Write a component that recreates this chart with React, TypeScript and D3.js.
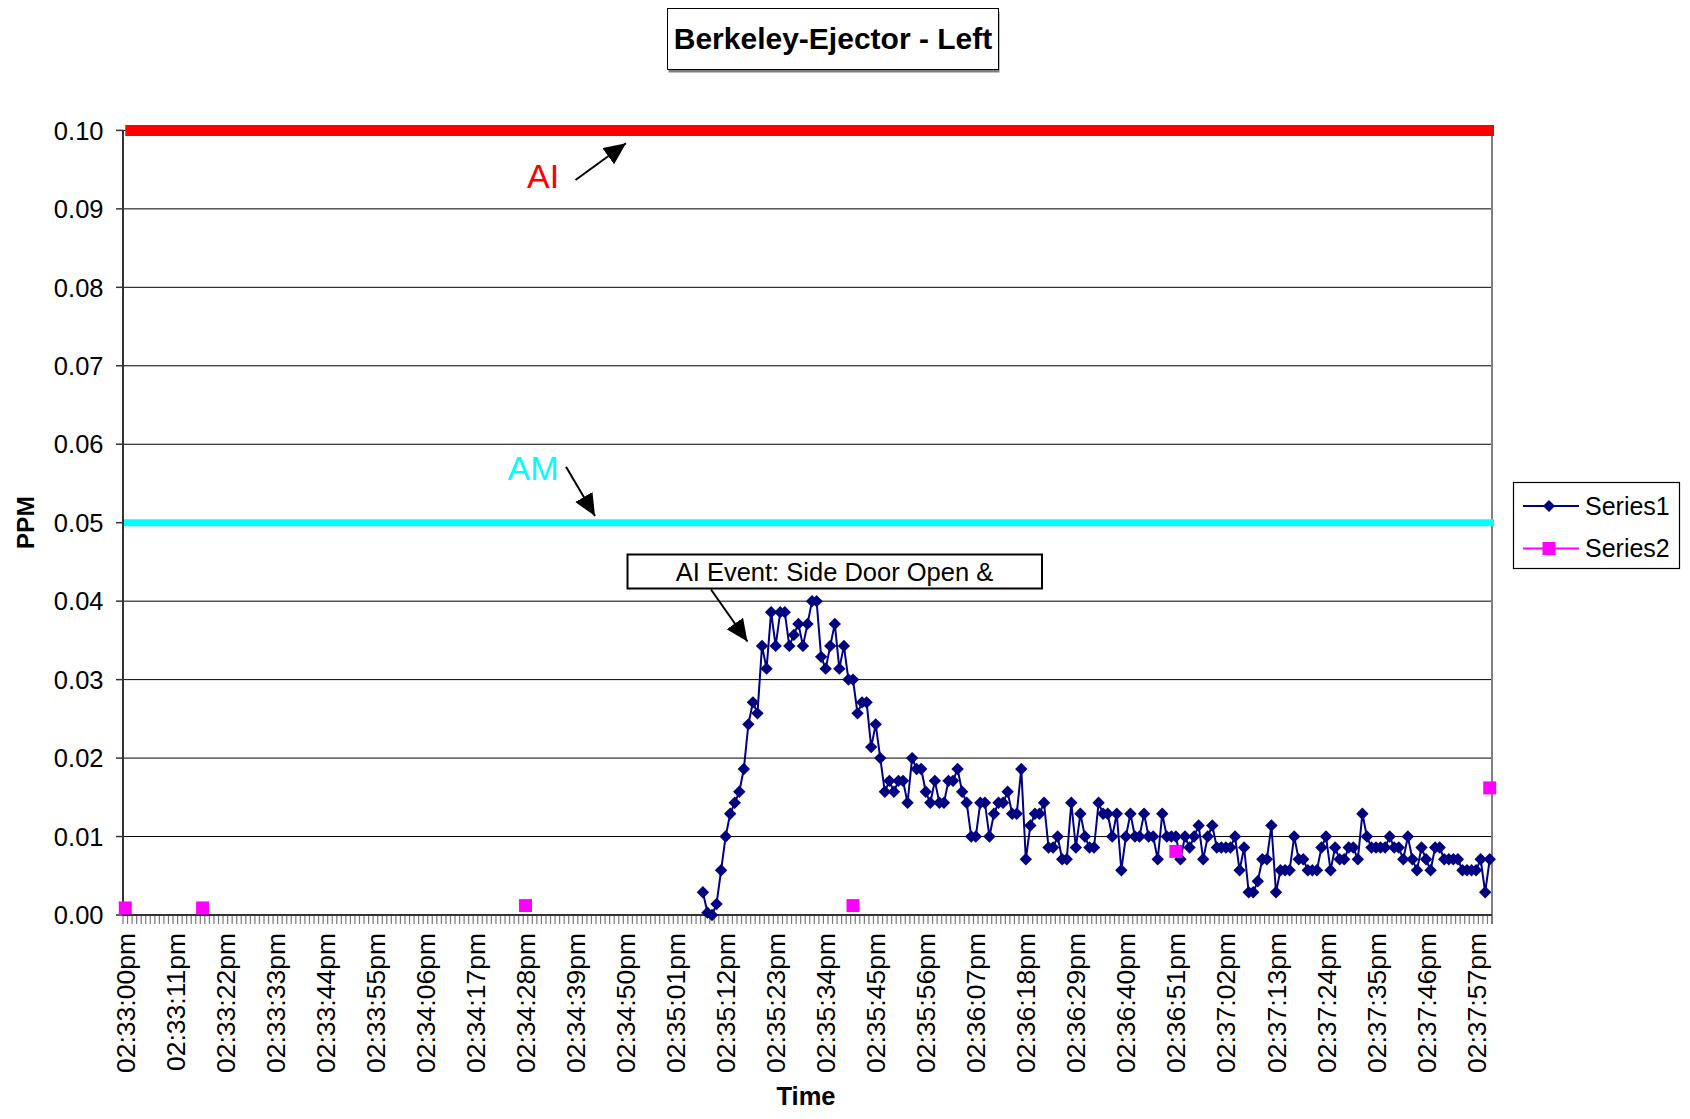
import React from "react";
import * as d3 from "d3";

// ---------- data ----------
const TITLE = "Berkeley-Ejector - Left";
const Y_TITLE = "PPM";
const X_TITLE = "Time";
const START_SECONDS = 2 * 3600 + 33 * 60; // 02:33:00pm
const N_CATEGORIES = 301; // one category per second, 02:33:00pm .. 02:38:00pm
const LABEL_EVERY = 11;
const yTicks = [0, 0.01, 0.02, 0.03, 0.04, 0.05, 0.06, 0.07, 0.08, 0.09, 0.1];

const AI_LEVEL = 0.1;
const AM_LEVEL = 0.05;

// Series1 starts at category index 127 (02:35:07pm)
const series1Start = 127;
const series1Values = [
  0.0029, 0.0003, 0, 0.0014, 0.0057, 0.01, 0.0129, 0.0143, 0.0157, 0.0186,
  0.0243, 0.0271, 0.0257, 0.0343, 0.0314, 0.0386, 0.0343, 0.0386, 0.0386, 0.0343,
  0.0357, 0.0371, 0.0343, 0.0371, 0.04, 0.04, 0.0329, 0.0314, 0.0343, 0.0371,
  0.0314, 0.0343, 0.03, 0.03, 0.0257, 0.0271, 0.0271, 0.0214, 0.0243, 0.02,
  0.0157, 0.0171, 0.0157, 0.0171, 0.0171, 0.0143, 0.02, 0.0186, 0.0186, 0.0157,
  0.0143, 0.0171, 0.0143, 0.0143, 0.0171, 0.0171, 0.0186, 0.0157, 0.0143, 0.01,
  0.01, 0.0143, 0.0143, 0.01, 0.0129, 0.0143, 0.0143, 0.0157, 0.0129, 0.0129,
  0.0186, 0.0071, 0.0114, 0.0129, 0.0129, 0.0143, 0.0086, 0.0086, 0.01, 0.0071,
  0.0071, 0.0143, 0.0086, 0.0129, 0.01, 0.0086, 0.0086, 0.0143, 0.0129, 0.0129,
  0.01, 0.0129, 0.0057, 0.01, 0.0129, 0.01, 0.01, 0.0129, 0.01, 0.01,
  0.0071, 0.0129, 0.01, 0.01, 0.01, 0.0071, 0.01, 0.0086, 0.01, 0.0114,
  0.0071, 0.01, 0.0114, 0.0086, 0.0086, 0.0086, 0.0086, 0.01, 0.0057, 0.0086,
  0.0029, 0.0029, 0.0043, 0.0071, 0.0071, 0.0114, 0.0029, 0.0057, 0.0057, 0.0057,
  0.01, 0.0071, 0.0071, 0.0057, 0.0057, 0.0057, 0.0086, 0.01, 0.0057, 0.0086,
  0.0071, 0.0071, 0.0086, 0.0086, 0.0071, 0.0129, 0.01, 0.0086, 0.0086, 0.0086,
  0.0086, 0.01, 0.0086, 0.0086, 0.0071, 0.01, 0.0071, 0.0057, 0.0086, 0.0071,
  0.0057, 0.0086, 0.0086, 0.0071, 0.0071, 0.0071, 0.0071, 0.0057, 0.0057, 0.0057,
  0.0057, 0.0071, 0.0029, 0.0071,
];

const series2Index = [0, 17, 88, 160, 231, 300];
const series2Values = [0.0009, 0.0009, 0.0012, 0.0012, 0.0081, 0.0162];

const legendLabels = ["Series1", "Series2"];
const annotationText = "AI Event: Side Door Open &";

// ---------- helpers ----------
function fmtTime(sec: number) {
  const h = Math.floor(sec / 3600);
  const m = Math.floor((sec % 3600) / 60);
  const s = sec % 60;
  const p = (n: number) => String(n).padStart(2, "0");
  return `${p(h)}:${p(m)}:${p(s)}pm`;
}
const categories = d3.range(N_CATEGORIES).map((i) => fmtTime(START_SECONDS + i));

const FONT = "'Liberation Sans', Arial, Helvetica, sans-serif";
const NAVY = "#000080";
const PINK = "#FF00FF";

export default function App() {
  const W = 1690;
  const H = 1119;
  const left = 123;
  const right = 1492;
  const top = 130.4;
  const bottom = 915;

  const x = d3
    .scaleBand<number>()
    .domain(d3.range(N_CATEGORIES))
    .range([left, right])
    .paddingInner(0)
    .paddingOuter(0);
  const bw = x.bandwidth();
  const xc = (i: number) => (x(i) as number) + bw / 2;
  const y = d3.scaleLinear().domain([0, 0.1]).range([bottom, top]);

  const s1 = series1Values.map((v, k) => ({ i: series1Start + k, v }));
  const line = d3
    .line<{ i: number; v: number }>()
    .x((d) => xc(d.i))
    .y((d) => y(d.v));

  const diamond = (cx: number, cy: number, r: number) =>
    `M${cx},${cy - r}L${cx + r},${cy}L${cx},${cy + r}L${cx - r},${cy}Z`;

  const labelIdx = d3.range(0, N_CATEGORIES, LABEL_EVERY);
  const boundaries = d3.range(N_CATEGORIES + 1).map((k) => left + k * bw);

  return (
    <svg
      width={W}
      height={H}
      style={{ position: "absolute", left: 0, top: 0, background: "#fff" }}
      fontFamily={FONT}
    >
      <defs>
        <marker
          id="arrow"
          markerUnits="userSpaceOnUse"
          markerWidth={24}
          markerHeight={20}
          refX={22}
          refY={10}
          orient="auto"
        >
          <path d="M0,0 L22,10 L0,20 Z" fill="#000" />
        </marker>
      </defs>
      <rect x={0} y={0} width={W} height={H} fill="#fff" />

      {/* gridlines */}
      {yTicks.slice(1).map((t) => (
        <line key={t} x1={left} x2={right} y1={y(t)} y2={y(t)} stroke="#000" strokeWidth={1} />
      ))}

      {/* plot border right */}
      <line x1={right} x2={right} y1={top} y2={bottom + 9} stroke="#808080" strokeWidth={2} />

      {/* AI / AM levels */}
      <line x1={xc(0)} x2={right + 2} y1={y(AI_LEVEL)} y2={y(AI_LEVEL)} stroke="#FF0000" strokeWidth={11} />
      <line x1={xc(0) - 2} x2={right + 2} y1={y(AM_LEVEL)} y2={y(AM_LEVEL)} stroke="#00FFFF" strokeWidth={7} />

      {/* category ticks */}
      {boundaries.map((bx, k) => (
        <line key={k} x1={bx} x2={bx} y1={bottom} y2={bottom + 9} stroke="#7a7a7a" strokeWidth={1.2} />
      ))}

      {/* axes */}
      <line x1={left} x2={left} y1={top} y2={bottom} stroke="#333" strokeWidth={2} />
      <line x1={left} x2={right} y1={bottom} y2={bottom} stroke="#333" strokeWidth={2} />
      {yTicks.map((t) => (
        <g key={t}>
          <line x1={left - 7} x2={left} y1={y(t)} y2={y(t)} stroke="#333" strokeWidth={1.5} />
          <text x={103.5} y={y(t)} dy="0.36em" textAnchor="end" fontSize={25.5} fill="#000">
            {t.toFixed(2)}
          </text>
        </g>
      ))}

      {/* x labels */}
      {labelIdx.map((i) => (
        <text
          key={i}
          transform={`translate(${xc(i)},${933}) rotate(-90)`}
          dy="0.36em"
          textAnchor="end"
          fontSize={26.5}
          fill="#000"
        >
          {categories[i]}
        </text>
      ))}

      {/* Series1 */}
      <path d={line(s1) || ""} fill="none" stroke={NAVY} strokeWidth={2} />
      {s1.map((d) => (
        <path key={d.i} d={diamond(xc(d.i), y(d.v), 6.2)} fill={NAVY} />
      ))}

      {/* Series2 */}
      {series2Index.map((i, k) => (
        <rect key={i} x={xc(i) - 6.5} y={y(series2Values[k]) - 6.5} width={13} height={13} fill={PINK} />
      ))}

      {/* axis titles */}
      <text x={806} y={1105} textAnchor="middle" fontSize={25.5} fontWeight="bold">
        {X_TITLE}
      </text>
      <text transform={`translate(25,${y(0.05)}) rotate(-90)`} dy="0.36em" textAnchor="middle" fontSize={24.5} fontWeight="bold">
        {Y_TITLE}
      </text>

      {/* title */}
      <rect x={668.5} y={11.5} width={331} height={61} fill="#808080" />
      <rect x={667.5} y={8.5} width={331} height={61} fill="#fff" stroke="#000" strokeWidth={1} />
      <text x={833} y={48.5} textAnchor="middle" fontSize={30} fontWeight="bold">
        {TITLE}
      </text>

      {/* AI label + arrow */}
      <text x={527} y={188} fontSize={34} fill="#FF0000">AI</text>
      <line x1={575.5} y1={180} x2={626} y2={143.3} stroke="#000" strokeWidth={2} markerEnd="url(#arrow)" />

      {/* AM label + arrow */}
      <text x={507.5} y={480} fontSize={34} fill="#00FFFF">AM</text>
      <line x1={566} y1={466.7} x2={595} y2={516} stroke="#000" strokeWidth={2} markerEnd="url(#arrow)" />

      {/* annotation */}
      <rect x={627.5} y={554.5} width={414.5} height={34} fill="#fff" stroke="#000" strokeWidth={2} />
      <text x={834.5} y={580.5} textAnchor="middle" fontSize={25.5}>
        {annotationText}
      </text>
      <line x1={711} y1={589.5} x2={747.5} y2={641.5} stroke="#000" strokeWidth={2} markerEnd="url(#arrow)" />

      {/* legend */}
      <rect x={1513.5} y={482.5} width={166} height={86} fill="#fff" stroke="#000" strokeWidth={1.2} />
      <line x1={1523} x2={1579} y1={506} y2={506} stroke={NAVY} strokeWidth={2} />
      <path d={diamond(1549, 506, 6)} fill={NAVY} />
      <text x={1585} y={514.5} fontSize={25}>{legendLabels[0]}</text>
      <line x1={1523} x2={1579} y1={548.5} y2={548.5} stroke={PINK} strokeWidth={2} />
      <rect x={1542.5} y={542} width={13} height={13} fill={PINK} />
      <text x={1585} y={557} fontSize={25}>{legendLabels[1]}</text>
    </svg>
  );
}
